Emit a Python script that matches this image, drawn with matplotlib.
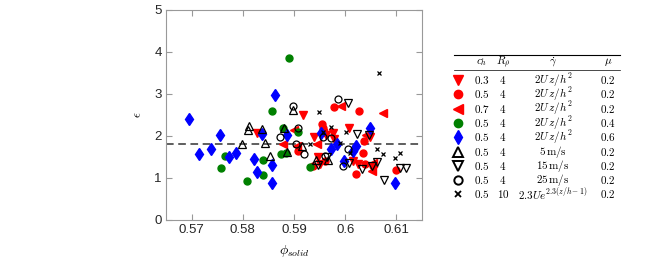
import numpy as np
import matplotlib
matplotlib.use('Agg')
import matplotlib.pyplot as plt

plt.rcParams['mathtext.fontset'] = 'cm'
plt.rcParams['font.family'] = 'Liberation Sans'

# data
red_dn_x = [0.5827, 0.5918, 0.5940, 0.5947, 0.5950, 0.5963, 0.5976, 0.5978, 0.6008, 0.6015, 0.6025, 0.6048]
red_dn_y = [2.06, 2.49, 1.98, 1.50, 1.34, 2.02, 2.06, 1.92, 2.18, 1.40, 1.34, 1.98]

red_o_x = [0.5907, 0.5937, 0.5954, 0.5957, 0.5960, 0.5978, 0.6027, 0.6021, 0.6035, 0.6038, 0.6036, 0.6054, 0.6100]
red_o_y = [1.64, 1.28, 2.28, 2.18, 1.40, 2.68, 2.60, 1.10, 1.60, 1.34, 1.87, 1.28, 1.18]

red_lt_x = [0.5879, 0.5900, 0.5905, 0.5957, 0.5991, 0.6074, 0.6040, 0.6054, 0.6053, 0.5945]
red_lt_y = [1.81, 2.14, 1.76, 2.08, 2.72, 2.54, 2.02, 1.36, 1.16, 1.80]

green_x = [0.5765, 0.5758, 0.5808, 0.5840, 0.5840, 0.5857, 0.5891, 0.5879, 0.5875, 0.5885, 0.5907, 0.5931]
green_y = [1.52, 1.24, 0.92, 1.44, 1.07, 2.59, 3.85, 2.18, 1.58, 1.60, 2.10, 1.26]

blue_x = [0.5695, 0.5714, 0.5738, 0.5755, 0.5773, 0.5787, 0.5822, 0.5827, 0.5837, 0.5857, 0.5857,
          0.5863, 0.5887, 0.5952, 0.5972, 0.5984, 0.5997, 0.6015, 0.6021, 0.6049, 0.6097]
blue_y = [2.40, 1.56, 1.70, 2.03, 1.50, 1.60, 1.46, 1.14, 2.04, 1.30, 0.88,
          2.97, 2.03, 2.06, 1.70, 1.82, 1.40, 1.64, 1.76, 2.18, 0.88]

up_x = [0.5798, 0.5813, 0.5811, 0.5837, 0.5843, 0.5853, 0.5880, 0.5887, 0.5898, 0.5915, 0.5942, 0.5967]
up_y = [1.81, 2.24, 2.14, 2.16, 1.84, 1.52, 2.18, 1.62, 2.61, 1.76, 1.44, 1.44]

dn_x = [0.5947, 0.6006, 0.6008, 0.6023, 0.6046, 0.6033, 0.6053, 0.6063, 0.6075, 0.6108, 0.6118, 0.5965]
dn_y = [1.32, 2.78, 1.36, 2.04, 2.02, 1.22, 1.28, 1.38, 0.96, 1.24, 1.24, 1.50]

circ_x = [0.5872, 0.5898, 0.5904, 0.5907, 0.5920, 0.5957, 0.5960, 0.5972, 0.5985, 0.5996, 0.6006]
circ_y = [1.97, 2.72, 1.80, 2.18, 1.56, 1.98, 1.52, 1.96, 2.87, 1.28, 1.70]

cross_x = [0.5932, 0.5948, 0.5973, 0.5957, 0.5990, 0.6001, 0.6066, 0.6062, 0.6074, 0.6097, 0.6107, 0.6010]
cross_y = [1.82, 2.57, 2.22, 2.10, 1.84, 2.10, 3.51, 1.68, 1.56, 1.48, 1.60, 1.60]

eps_mean = 1.8

# legend table rows
c_h = ['0.3', '0.5', '0.7', '0.5', '0.5', '0.5', '0.5', '0.5', '0.5']
R_rho = ['4', '4', '4', '4', '4', '4', '4', '4', '10']
gamma = [r'$2U\,z/h^2$'] * 5 + [r'$5\,\mathrm{m/s}$', r'$15\,\mathrm{m/s}$',
                                 r'$25\,\mathrm{m/s}$', r'$2.3Ue^{2.3(z/h-1)}$']
mu = ['0.2', '0.2', '0.2', '0.4', '0.6', '0.2', '0.2', '0.2', '0.2']

styles = [
    dict(marker='v', color='red', mfc='red', mec='red', ms=6),
    dict(marker='o', color='red', mfc='red', mec='red', ms=5),
    dict(marker='<', color='red', mfc='red', mec='red', ms=6),
    dict(marker='o', color='green', mfc='green', mec='green', ms=5),
    dict(marker='d', color='blue', mfc='blue', mec='blue', ms=6),
    dict(marker='^', color='k', mfc='none', mec='k', ms=5.5, mew=0.9),
    dict(marker='v', color='k', mfc='none', mec='k', ms=5.5, mew=0.9),
    dict(marker='o', color='k', mfc='none', mec='k', ms=5, mew=0.9),
    dict(marker='x', color='k', mfc='none', mec='k', ms=3.5, mew=0.9),
]
series = [(red_dn_x, red_dn_y), (red_o_x, red_o_y), (red_lt_x, red_lt_y),
          (green_x, green_y), (blue_x, blue_y), (up_x, up_y),
          (dn_x, dn_y), (circ_x, circ_y), (cross_x, cross_y)]

W, H = 660, 266
fig = plt.figure(figsize=(W / 100, H / 100), dpi=100)
ax = fig.add_axes([166 / W, 1 - 220 / H, 256 / W, 210 / H])

for (x, y), st in zip(series, styles):
    ax.plot(x, y, linestyle='none', **st)

ax.axhline(eps_mean, color='#333333', ls=(0, (5, 3)), lw=1.1, zorder=0)

ax.set_xlim(0.565, 0.615)
ax.set_ylim(0, 5)
ax.set_xticks([0.57, 0.58, 0.59, 0.6, 0.61])
ax.set_xticklabels(['0.57', '0.58', '0.59', '0.6', '0.61'])
ax.set_yticks(range(6))
ax.tick_params(direction='in', top=True, right=True, length=4, width=0.8,
               color='#999999', labelcolor='#262626', labelsize=9.5, pad=3)
for s in ax.spines.values():
    s.set_color('#999999')
    s.set_linewidth(0.8)
ax.set_xlabel(r'$\phi_{solid}$', fontsize=10, labelpad=5)
ax.set_ylabel(r'$\epsilon$', fontsize=9, labelpad=7)

# legend table in pixel coordinates
lg = fig.add_axes([0, 0, 1, 1])
lg.set_xlim(0, W)
lg.set_ylim(H, 0)
lg.axis('off')
lg.patch.set_visible(False)

lg.plot([454, 620], [55, 55], color='k', lw=0.8)
lg.plot([454, 620], [70, 70], color='k', lw=0.5)
fs = 8
hy = 62.5
lg.text(482, hy, r'$c_h$', ha='center', va='center', fontsize=fs)
lg.text(503, hy, r'$R_\rho$', ha='center', va='center', fontsize=fs)
lg.text(553, hy, r'$\dot{\gamma}$', ha='center', va='center', fontsize=fs)
lg.text(608, hy, r'$\mu$', ha='center', va='center', fontsize=fs)

for i, st in enumerate(styles):
    yy = 80 + i * 14.3
    s2 = dict(st)
    s2['ms'] = st['ms'] * 1.2
    if st['marker'] == 'x':
        s2['mew'] = 1.3
    elif st['mfc'] == 'none':
        s2['mew'] = 1.4
    lg.plot([458], [yy], linestyle='none', **s2)
    lg.text(482, yy, r'$%s$' % c_h[i], ha='center', va='center', fontsize=fs)
    lg.text(503, yy, r'$%s$' % R_rho[i], ha='center', va='center', fontsize=fs)
    lg.text(553, yy, gamma[i], ha='center', va='center', fontsize=fs)
    lg.text(608, yy, r'$%s$' % mu[i], ha='center', va='center', fontsize=fs)

fig.savefig('out.png', dpi=100)
